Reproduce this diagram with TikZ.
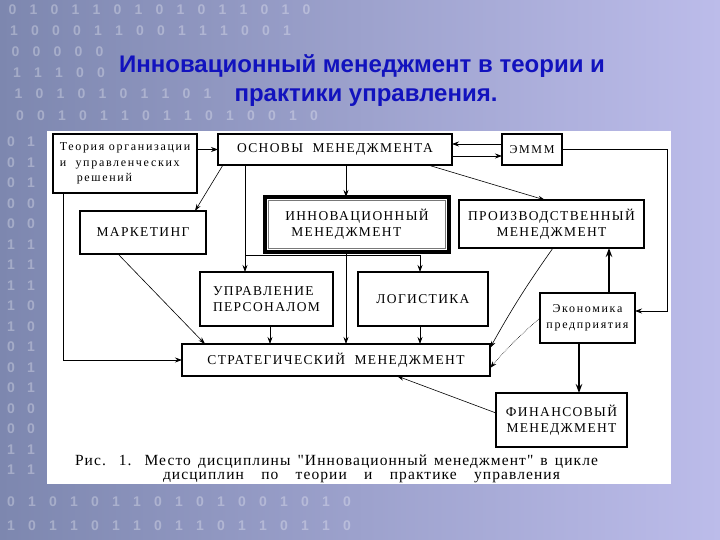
\documentclass[tikz,border=0pt]{standalone}
\usepackage{fontspec}
\setmainfont{Liberation Serif}
\newfontfamily\capsfont[LetterSpace=10]{Liberation Serif}
\newfontfamily\lowfont[LetterSpace=14]{Liberation Serif}
\newfontfamily\capfont[LetterSpace=7]{Liberation Serif}
\newfontfamily\titlefont{Liberation Sans}
\usetikzlibrary{arrows.meta,calc}
\definecolor{titleblue}{RGB}{18,18,190}
\definecolor{bgleft}{RGB}{125,135,175}
\definecolor{bgright}{RGB}{188,188,234}
\definecolor{innergray}{RGB}{120,120,120}
\begin{document}
\begin{tikzpicture}[x=1pt,y=-1pt,
  box/.style={draw=black, line width=2pt, fill=white, inner sep=0pt, outer sep=0pt,
    font=\capsfont\fontsize{13.5}{16}\selectfont},
  lowbox/.style={box, font=\lowfont\fontsize{12}{15.5}\selectfont},
  conn/.style={line width=0.7pt, -{Stealth[length=7pt,width=5pt]}},
  thinconn/.style={line width=0.6pt, -{Stealth[length=7pt,width=4.5pt]}},
  heavy/.style={line width=1.5pt, -{Stealth[length=9pt,width=6.5pt]}},
  titletext/.style={font=\titlefont\bfseries\fontsize{24}{28}\selectfont, text=titleblue, inner sep=0pt, anchor=base},
  captext/.style={font=\capfont\fontsize{15.5}{17}\selectfont, inner sep=0pt, anchor=base},
  digit/.style={font=\titlefont\bfseries\fontsize{14}{14}\selectfont, text=white, opacity=0.3, inner sep=0pt}
]
\useasboundingbox (0,0) rectangle (720,540);
\shade[left color=bgleft, right color=bgright] (0,0) rectangle (720,540);
% faint binary texture of the background (kept clear of the title)
\foreach \r/\yy/\ncol in {1/10/15, 2/31/14, 3/52/5, 4/73/5, 5/94/10, 6/116/15} {
  \foreach \c in {1,...,\ncol} {
    \pgfmathtruncatemacro{\d}{mod(floor((\c*37+\r*53+\c*\r*11)/7),2)}
    \node[digit] (dg-\r-\c) at ({\c*21-10+\r*1.5}, \yy) {\d};
  }
}
\foreach \r in {0,...,16} {
  \foreach \c in {0,1} {
    \pgfmathtruncatemacro{\d}{mod(floor((\r*41+\c*29+\r*\c*7)/5),2)}
    \node[digit] (dl-\r-\c) at ({11+\c*20}, {142+\r*20.5}) {\d};
  }
}
\foreach \r in {0,1} {
  \foreach \c in {0,...,16} {
    \pgfmathtruncatemacro{\d}{mod(floor((\r*31+\c*43+\c*\r*13)/6),2)}
    \node[digit] (db-\r-\c) at ({11+\c*21}, {502+\r*24}) {\d};
  }
}
\fill[white] (47,131) rectangle (671,484);

% title
\node[titletext] (title1) at (362,73) {Инновационный менеджмент в теории и};
\node[titletext] (title2) at (366,102) {практики управления.};

% boxes
\node[lowbox, minimum width=144pt, minimum height=59pt, align=left] (theory) at (125,163.5)
  {Теория организации\\и\ \ управленческих\\\hspace*{17pt}решений};
\node[box, minimum width=234pt, minimum height=31pt] (osnovy) at (335,149.5) {ОСНОВЫ\ \ МЕНЕДЖМЕНТА};
\node[box, minimum width=60pt, minimum height=31pt, font=\lowfont\fontsize{12}{14}\selectfont] (emmm) at (532,149.5) {ЭМММ};
\node[box, line width=2.5pt, minimum width=126pt, minimum height=43pt] (market) at (143,232.5) {МАРКЕТИНГ};
\node[box, line width=4pt, minimum width=184pt, minimum height=55pt, align=left] (innov) at (357,224.5)
  {ИННОВАЦИОННЫЙ\\\hspace*{6pt}МЕНЕДЖМЕНТ};
\draw[innergray, line width=1.2pt] ($(innov.south west)+(3.5,-3.5)$) rectangle ($(innov.north east)+(-3.5,3.5)$);
\node[box, line width=2.5pt, minimum width=185pt, minimum height=48pt, align=center] (proizv) at (551.5,224)
  {ПРОИЗВОДСТВЕННЫЙ\\МЕНЕДЖМЕНТ};
\node[box, line width=2.5pt, minimum width=133pt, minimum height=54pt, align=left] (uprav) at (266.5,299)
  {УПРАВЛЕНИЕ\\ПЕРСОНАЛОМ};
\node[box, line width=2.5pt, minimum width=130pt, minimum height=54pt] (logist) at (423,299) {ЛОГИСТИКА};
\node[box, minimum width=308pt, minimum height=32pt] (strat) at (336,360) {СТРАТЕГИЧЕСКИЙ\ \ МЕНЕДЖМЕНТ};
\node[lowbox, line width=1.5pt, minimum width=95pt, minimum height=50pt, align=center] (econ) at (587.5,318)
  {Экономика\\предприятия};
\node[box, line width=2.5pt, minimum width=131pt, minimum height=54pt, align=center] (finans) at (561.5,420)
  {ФИНАНСОВЫЙ\\МЕНЕДЖМЕНТ};

% caption
\node[captext] (cap1) at (336.5,465) {\makebox[523pt][s]{Рис. 1. Место дисциплины "Инновационный менеджмент" в цикле}};
\node[captext] (cap2) at (361.5,479) {\makebox[397pt][s]{дисциплин по теории и практике управления}};

% helper coordinates
\coordinate (cA) at (245,0);
\coordinate (cB) at (346,0);
\coordinate (cC) at (420,0);
\coordinate (cD) at (270,0);
\coordinate (cE) at (63,0);
\coordinate (cF) at (609,0);
\coordinate (cG) at (579,0);
\coordinate (cR) at (667,0);
\coordinate (yU) at (0,144);
\coordinate (yL) at (0,156);
\coordinate (yBus) at (0,255);
\coordinate (yE) at (0,311);

% connectors
\draw[conn] (theory.east |- osnovy.west) -- (osnovy.west);
\draw[conn] (emmm.west |- yU) -- (osnovy.east |- yU);
\draw[conn] (osnovy.east |- yL) -- (emmm.west |- yL);
\draw[conn] (emmm.east) -- (emmm.east -| cR) -- (cR |- yE) -- (econ.east |- yE);
\draw[thinconn] ($(osnovy.south west)+(5,0)$) -- ($(market.north east)+(-11,0)$);
\draw[conn] (osnovy.south -| cB) -- (innov.north -| cB);
\draw[conn] (osnovy.south -| cA) -- (uprav.north -| cA);
\draw[conn] (cA |- yBus) -- (cC |- yBus) -- (logist.north -| cC);
\draw[conn] (innov.south -| cB) -- (strat.north -| cB);
\draw[conn] (uprav.south -| cD) -- (strat.north -| cD);
\draw[conn] (logist.south -| cC) -- (strat.north -| cC);
\draw[thinconn] ($(market.south west)+(38,0)$) -- ($(strat.north west)+(23,0)$);
\draw[conn] (theory.south -| cE) -- (cE |- strat.west) -- (strat.west);
\draw[thinconn] ($(osnovy.south east)+(-24,0)$) -- ($(proizv.north)+(-6.5,0)$);
\draw[thinconn] ($(proizv.south)+(1.5,0)$) to[bend right=3] ($(strat.north east)+(0,4)$);
\draw[thinconn, densely dotted] (econ.west) to[bend right=4] ($(strat.south east)+(0,-8)$);
\draw[heavy] (econ.north -| cF) -- (proizv.south -| cF);
\draw[heavy] (econ.south -| cG) -- (finans.north -| cG);
\draw[thinconn] ($(finans.west)+(0,-7)$) -- ($(strat.south)+(61,0)$);
\end{tikzpicture}
\end{document}
